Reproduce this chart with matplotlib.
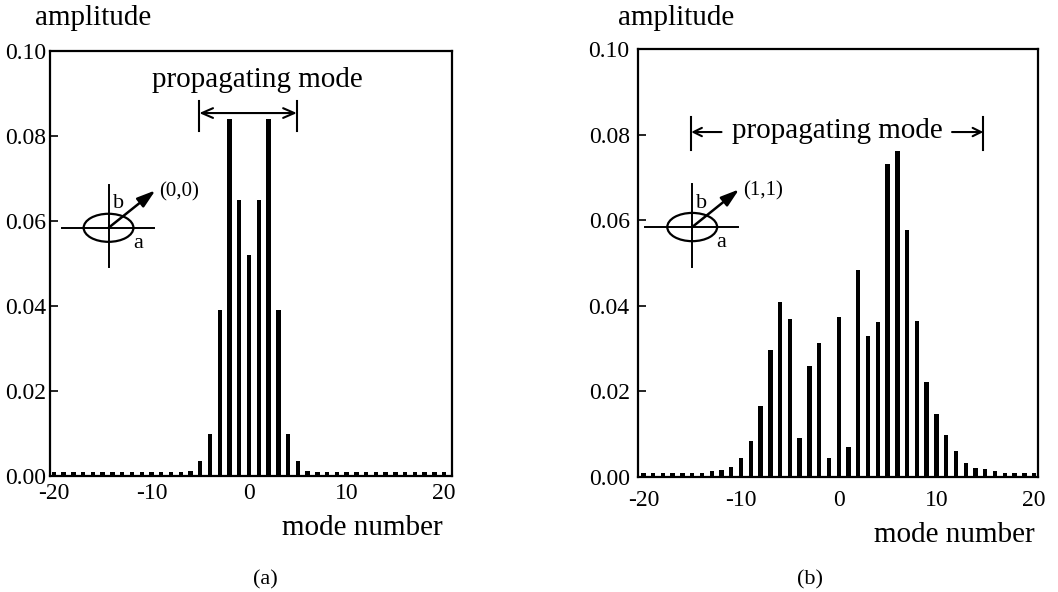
import numpy as np
import matplotlib
matplotlib.use("Agg")
import matplotlib.pyplot as plt
from matplotlib.patches import Ellipse

plt.rcParams['font.family'] = ['Liberation Serif', 'DejaVu Serif']

# mode numbers -20 .. 20
modes = list(range(-20, 21))

# panel (a): (0,0) excitation, amplitude per mode
amp_a = [0.001] * 14 + [0.0012, 0.0035, 0.010, 0.039, 0.084, 0.065, 0.052,
                        0.065, 0.084, 0.039, 0.010, 0.0035, 0.0012] + [0.001] * 14

# panel (b): (1,1) excitation
amp_b = [0.001, 0.001, 0.001, 0.001, 0.001, 0.001, 0.001,
         0.0014, 0.0016, 0.0023, 0.0045, 0.0085, 0.0165, 0.0297, 0.0410,
         0.0370, 0.0090, 0.0259, 0.0313, 0.0045, 0.0375,
         0.0070, 0.0483, 0.0330, 0.0361, 0.0732, 0.0762, 0.0578, 0.0365,
         0.0221, 0.0148, 0.0097, 0.0061, 0.0033, 0.0020, 0.0018, 0.0014,
         0.001, 0.001, 0.001, 0.001]

yticks = [0.00, 0.02, 0.04, 0.06, 0.08, 0.10]
xticks = [-20, -10, 0, 10, 20]
panel_names = ["(a)", "(b)"]
mode_labels = ["(0,0)", "(1,1)"]

W, H = 1058, 592
fig = plt.figure(figsize=(W / 100, H / 100), dpi=100)


def px_axes(left, top, right, bottom):
    return fig.add_axes([left / W, 1 - bottom / H, (right - left) / W, (bottom - top) / H])


def style_axes(ax, xlim, ypad, xpad):
    ax.set_xlim(*xlim)
    ax.set_ylim(0, 0.10)
    ax.set_yticks(yticks)
    ax.set_yticklabels(["%.2f" % v for v in yticks])
    ax.set_xticks(xticks)
    ax.set_xticklabels([str(v) for v in xticks])
    ax.tick_params(axis='y', direction='in', length=6, width=1.2, pad=ypad, labelsize=17)
    ax.tick_params(axis='x', length=0, pad=xpad, labelsize=17)
    for s in ax.spines.values():
        s.set_linewidth(1.6)


def draw_sensor(ax, cx, cy, label):
    # small ellipse diagram with axes a, b and direction arrow
    ax.add_patch(Ellipse((cx, cy), 5.1, 0.0066, fill=False, lw=1.6, color='black'))
    ax.plot([cx - 4.8, cx + 4.7], [cy, cy], color='black', lw=1.4)
    ax.plot([cx, cx], [cy + 0.0100, cy - 0.0093], color='black', lw=1.4)
    ax.annotate("", xy=(cx + 4.8, cy + 0.0088), xytext=(cx, cy),
                arrowprops=dict(arrowstyle='-|>,head_length=1.1,head_width=0.35',
                                color='black', lw=1.8, shrinkA=0, shrinkB=0))
    ax.text(cx + 5.2, cy + 0.0084, label, fontsize=15, va='center', ha='left')
    ax.text(cx + 1.0, cy + 0.0056, "b", fontsize=16, va='center', ha='center')
    ax.text(cx + 3.0, cy - 0.0036, "a", fontsize=16, va='center', ha='center')


# ---- panel (a)
ax1 = px_axes(50, 51, 452, 476)
ax1.bar(modes, amp_a, width=0.45, color='black')
style_axes(ax1, (-20.4, 20.8), 3, 5)
ax1.text(0.9, 0.0915, "propagating mode", fontsize=21, ha='center', va='baseline')
ax1.annotate("", xy=(-5.1, 0.0854), xytext=(4.9, 0.0854),
             arrowprops=dict(arrowstyle='<->,head_length=0.8,head_width=0.35',
                             color='black', lw=1.5, shrinkA=0, shrinkB=0))
for xe in (-5.1, 4.9):
    ax1.plot([xe, xe], [0.0811, 0.0882], color='black', lw=1.5)
draw_sensor(ax1, -14.4, 0.0584, mode_labels[0])

# ---- panel (b)
ax2 = px_axes(638, 49, 1038, 477)
ax2.bar(modes, amp_b, width=0.45, color='black')
style_axes(ax2, (-20.55, 20.4), 6, 9)
ax2.text(-0.1, 0.0791, "propagating mode", fontsize=21, ha='center', va='baseline')
ax2.annotate("", xy=(-15.1, 0.0806), xytext=(-12.0, 0.0806),
             arrowprops=dict(arrowstyle='->,head_length=0.6,head_width=0.3',
                             color='black', lw=1.5, shrinkA=0, shrinkB=0))
ax2.annotate("", xy=(14.8, 0.0806), xytext=(11.6, 0.0806),
             arrowprops=dict(arrowstyle='->,head_length=0.6,head_width=0.3',
                             color='black', lw=1.5, shrinkA=0, shrinkB=0))
for xe in (-15.1, 14.8):
    ax2.plot([xe, xe], [0.0763, 0.0840], color='black', lw=1.5)
draw_sensor(ax2, -15.0, 0.0584, mode_labels[1])

# ---- figure texts
fig.text(93 / W, 1 - 18 / H, "amplitude", fontsize=21, ha='center', va='center')
fig.text(676 / W, 1 - 18 / H, "amplitude", fontsize=21, ha='center', va='center')
fig.text(443 / W, 1 - 528 / H, "mode number", fontsize=21, ha='right', va='center')
fig.text(1035 / W, 1 - 535 / H, "mode number", fontsize=21, ha='right', va='center')
fig.text(265 / W, 1 - 580 / H, panel_names[0], fontsize=16, ha='center', va='center')
fig.text(810 / W, 1 - 580 / H, panel_names[1], fontsize=16, ha='center', va='center')

fig.savefig("out.png", dpi=100)
